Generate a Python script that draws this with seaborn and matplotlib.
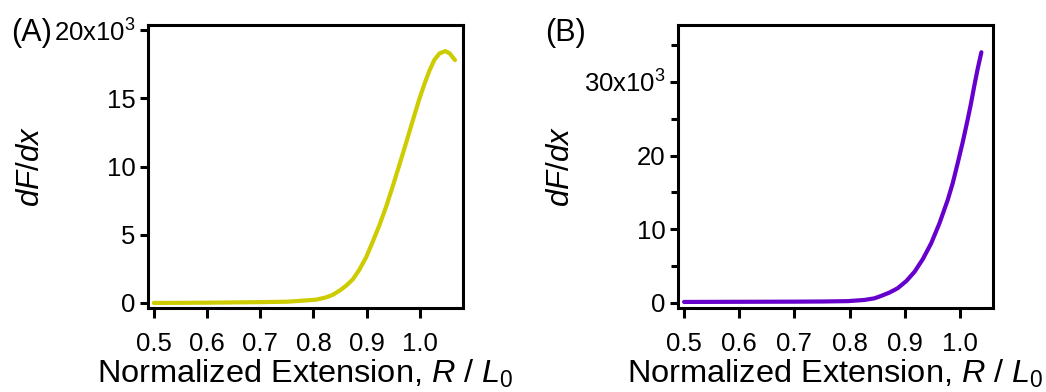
import matplotlib
matplotlib.use("Agg")
import matplotlib.pyplot as plt
import seaborn as sns
import pandas as pd

# ── Data (y in units of 10^3) ────────────────────────────────────────
ext_a = [0.50, 0.55, 0.60, 0.65, 0.70, 0.75, 0.774, 0.805, 0.824, 0.836,
         0.849, 0.861, 0.874, 0.886, 0.899, 0.911, 0.924, 0.937, 0.949,
         0.962, 0.974, 0.987, 0.999, 1.009, 1.018, 1.027, 1.037, 1.048,
         1.056, 1.066]
dfdx_a = [0.00, 0.01, 0.02, 0.04, 0.06, 0.09, 0.15, 0.24, 0.41, 0.59,
          0.90, 1.25, 1.73, 2.42, 3.35, 4.45, 5.70, 7.10, 8.55,
          10.18, 11.72, 13.41, 14.95, 16.09, 17.02, 17.80, 18.29, 18.46,
          18.29, 17.80]

ext_b = [0.50, 0.55, 0.60, 0.65, 0.70, 0.75, 0.797, 0.827, 0.845, 0.857,
         0.872, 0.887, 0.903, 0.918, 0.933, 0.948, 0.963, 0.978, 0.987,
         0.996, 1.005, 1.014, 1.020, 1.026, 1.032, 1.039]
dfdx_b = [0.14, 0.15, 0.16, 0.17, 0.18, 0.20, 0.25, 0.41, 0.63, 0.95,
          1.40, 1.99, 2.98, 4.25, 5.97, 8.10, 10.81, 13.98, 16.24,
          18.95, 21.76, 24.83, 27.00, 29.40, 31.66, 34.01]

x_ticks = [0.5, 0.6, 0.7, 0.8, 0.9, 1.0]
x_tick_labels = ["0.5", "0.6", "0.7", "0.8", "0.9", "1.0"]
y_ticks_a = [0, 5, 10, 15, 20]
y_tick_labels_a = ["0", "5", "10", "15", "20x10$^{3}$"]
y_ticks_b = [0, 10, 20, 30]
y_tick_labels_b = ["0", "10", "20", "30x10$^{3}$"]
y_minor_b = [5, 15, 25, 35]

color_a = "#CCCC00"
color_b = "#6600CC"

sns.set_theme(style="ticks")
plt.rcParams["font.family"] = ["Liberation Sans", "DejaVu Sans"]
plt.rcParams["mathtext.fontset"] = "custom"
plt.rcParams["mathtext.rm"] = "Liberation Sans"
plt.rcParams["mathtext.it"] = "Liberation Sans:italic"
for key in ["text.color", "axes.labelcolor", "xtick.color", "ytick.color",
            "axes.edgecolor"]:
    plt.rcParams[key] = "black"

fig = plt.figure(figsize=(10.46, 3.92), dpi=100)
ax_a = fig.add_axes([0.1415, 0.2143, 0.3011, 0.7219])
ax_b = fig.add_axes([0.6482, 0.2143, 0.3011, 0.7219])

df_a = pd.DataFrame({"x": ext_a, "y": dfdx_a})
df_b = pd.DataFrame({"x": ext_b, "y": dfdx_b})
sns.lineplot(data=df_a, x="x", y="y", ax=ax_a, color=color_a, lw=3.0,
             estimator=None, sort=False)
sns.lineplot(data=df_b, x="x", y="y", ax=ax_b, color=color_b, lw=3.0,
             estimator=None, sort=False)

xlabel = "Normalized Extension, $\\mathit{R}$ / $\\mathit{L}_0$"

panels = [
    (ax_a, y_ticks_a, y_tick_labels_a, (-0.37, 20.37), 1.081),
    (ax_b, y_ticks_b, y_tick_labels_b, (-0.68, 37.7), 1.06),
]
for ax, yt, ytl, ylim, xmax in panels:
    ax.set_xlim(0.489, xmax)
    ax.set_ylim(*ylim)
    ax.set_xticks(x_ticks)
    ax.set_xticklabels(x_tick_labels)
    ax.set_yticks(yt)
    ax.set_yticklabels(ytl)
    for s in ax.spines.values():
        s.set_visible(True)
        s.set_linewidth(2.2)
        s.set_color("black")
    ax.tick_params(axis="both", which="major", direction="out", length=6,
                   width=2.2, labelsize=18.5, colors="black", pad=3)
    ax.tick_params(axis="x", which="major", length=7, pad=10)
    ax.tick_params(axis="both", which="minor", direction="out", length=5,
                   width=2.2, colors="black")
    ax.set_xlabel(xlabel, fontsize=23.4, labelpad=2)
    ax.set_ylabel("$\\mathit{dF/dx}$", fontsize=22.5, labelpad=6)
    ax.grid(False)

ax_b.set_yticks(y_minor_b, minor=True)

fig.text(0.011, 0.955, "(A)", fontsize=22, va="top", ha="left")
fig.text(0.521, 0.955, "(B)", fontsize=22, va="top", ha="left")

fig.savefig("out.png", dpi=100)
